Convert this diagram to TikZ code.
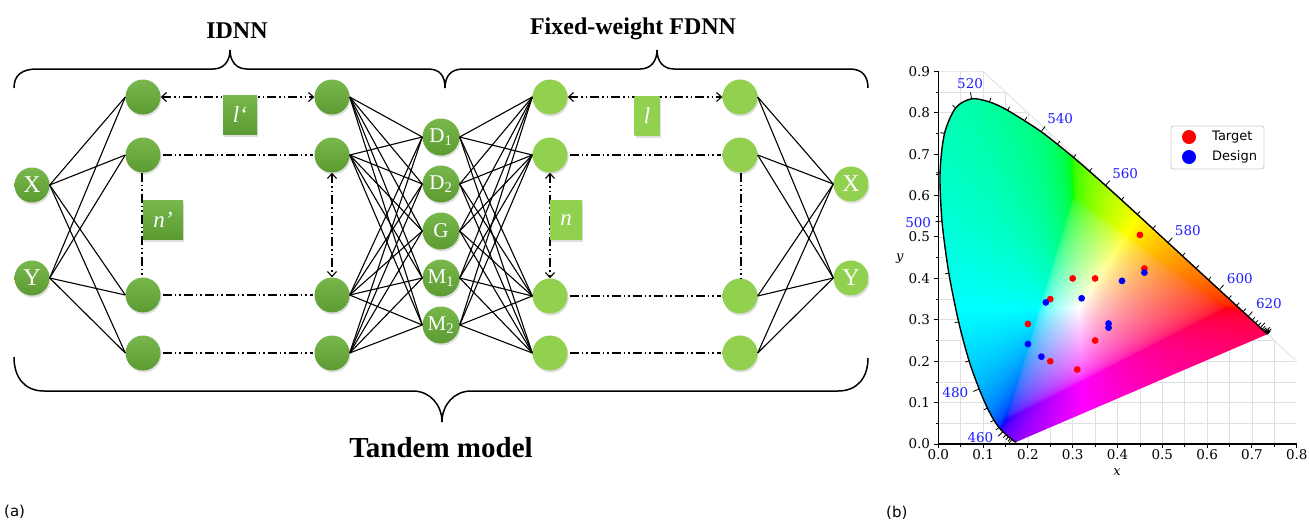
\documentclass[tikz,border=0pt]{standalone}
\usepackage{fontspec}
\setmainfont{Liberation Serif}
\newfontfamily\dvserif{DejaVu Serif}
\newfontfamily\dvsans{DejaVu Sans}
\usetikzlibrary{arrows.meta,shadows,calc}

\definecolor{gA}{HTML}{78B74C}
\definecolor{gB}{HTML}{5B9B31}
\definecolor{gL}{HTML}{92D050}
\definecolor{wlblue}{RGB}{30,30,255}
\definecolor{gridc}{HTML}{E0E0E0}

\pgfdeclarefunctionalshading{cie}{\pgfpointorigin}{\pgfpoint{358.4pt}{372.6pt}}{}{
412.45 div exch 446.33 div exch 2 copy add 1 exch sub
2 index 3.2406 mul 2 index -1.5372 mul add 1 index -0.4986 mul add
3 index -0.9689 mul 3 index 1.8758 mul add 2 index 0.0415 mul add
4 index 0.0557 mul 4 index -0.2040 mul add 3 index 1.0570 mul add
6 3 roll pop pop pop
3 copy 2 copy gt {exch} if pop 2 copy gt {exch} if pop
dup 0 gt {pop 0} if neg
dup 5 1 roll add 3 1 roll 3 index add 3 1 roll 3 index add
3 1 roll 4 -1 roll pop
dup 0 lt {pop 0} if 3 1 roll
dup 0 lt {pop 0} if 3 1 roll
dup 0 lt {pop 0} if 3 1 roll
3 copy 2 copy lt {exch} if pop 2 copy lt {exch} if pop
dup 0.000001 lt {pop 0.000001} if
1 exch div
dup 5 1 roll mul 3 1 roll 3 index mul 3 1 roll 3 index mul
3 1 roll 4 -1 roll pop
0.4545 exp 3 1 roll 0.4545 exp 3 1 roll 0.4545 exp 3 1 roll
}

\tikzset{
  dnode/.style={circle, minimum size=35pt, inner sep=0pt, top color=gA, bottom color=gB,
    text=white, font=\fontsize{24}{24}\selectfont,
    drop shadow={shadow xshift=1pt, shadow yshift=-2pt, opacity=0.25}},
  lnode/.style={dnode, top color=gL, bottom color=gL},
  mnode/.style={dnode, minimum size=37pt, font=\fontsize{21}{21}\selectfont},
  dbox/.style={rectangle, inner sep=0pt, minimum height=39pt, top color=gA, bottom color=gB,
    text=white, font=\fontsize{23}{23}\selectfont\itshape,
    drop shadow={shadow xshift=1pt, shadow yshift=-2pt, opacity=0.25}},
  lbox/.style={dbox, top color=gL, bottom color=gL},
  conn/.style={line width=1.1pt, black},
  ddline/.style={line width=1.1pt, dash pattern=on 9pt off 3pt on 1.5pt off 3pt on 1.5pt off 3pt},
  darr/.style={ddline, {Straight Barb[length=5pt,width=9pt]}-{Straight Barb[length=5pt,width=9pt]}},
  bracepath/.style={line width=1.5pt},
  title/.style={font=\fontsize{24}{24}\selectfont\bfseries, anchor=base},
  gridln/.style={gridc, line width=0.8pt},
  wtick/.style={line width=0.8pt, black},
  wl/.style={text=wlblue, font=\dvserif\fontsize{13.5}{13.5}\selectfont, inner sep=0pt},
  axl/.style={font=\dvserif\fontsize{13.5}{13.5}\selectfont, inner sep=0pt},
  panel/.style={font=\dvsans\fontsize{15}{15}\selectfont, inner sep=0pt},
  leg/.style={font=\dvsans\fontsize{13}{13}\selectfont, inner sep=0pt, anchor=west},
}

\begin{document}
\begin{tikzpicture}[x=1pt,y=-1pt]
\fill[white] (0,0) rectangle (1309,523);
\useasboundingbox (0,0) rectangle (1309,523);

% ---------- titles and braces ----------
\node[title] (tidnn) at (237,38) {IDNN};
\node[title] (tfdnn) at (633,34) {Fixed-weight FDNN};
\node[title, font=\fontsize{29}{29}\selectfont\bfseries] (ttandem) at (441,457) {Tandem model};

\draw[bracepath] (14,88) .. controls (14,75) and (22,69) .. (37,69) -- (213,69)
  .. controls (224,69) and (230,61) .. (230,50) .. controls (230,61) and (236,69) .. (247,69)
  -- (428,69) .. controls (440,69) and (445,76) .. (445,88);
\draw[bracepath] (445,88) .. controls (445,76) and (451,69) .. (463,69) -- (640,69)
  .. controls (651,69) and (657,61) .. (657,50) .. controls (657,61) and (663,69) .. (674,69)
  -- (850,69) .. controls (862,69) and (868,76) .. (868,88);
\draw[bracepath] (14,357) .. controls (14,378) and (25,391) .. (44,391) -- (413,391)
  .. controls (430,391) and (442,405) .. (442,422) .. controls (442,405) and (454,391) .. (471,391)
  -- (838,391) .. controls (857,391) and (868,378) .. (868,358);

% ---------- nodes ----------
\node[dnode] (X) at (32,185) {X};
\node[dnode] (Y) at (32,278) {Y};
\node[dnode] (a1) at (143,97) {};
\node[dnode] (a2) at (143,155) {};
\node[dnode] (a3) at (143,295) {};
\node[dnode] (a4) at (143,353) {};
\node[dnode] (b1) at (332,97) {};
\node[dnode] (b2) at (332,155) {};
\node[dnode] (b3) at (332,295) {};
\node[dnode] (b4) at (332,353) {};
\node[mnode] (m1) at (441,137) {D\textsubscript{1}};
\node[mnode] (m2) at (441,184) {D\textsubscript{2}};
\node[mnode] (m3) at (441,231) {G};
\node[mnode] (m4) at (441,278) {M\textsubscript{1}};
\node[mnode] (m5) at (441,325) {M\textsubscript{2}};
\node[lnode] (c1) at (550,97) {};
\node[lnode] (c2) at (550,155) {};
\node[lnode] (c3) at (550,296) {};
\node[lnode] (c4) at (550,353) {};
\node[lnode] (e1) at (740,97) {};
\node[lnode] (e2) at (740,155) {};
\node[lnode] (e3) at (740,296) {};
\node[lnode] (e4) at (740,353) {};
\node[lnode] (Xo) at (851,184) {X};
\node[lnode] (Yo) at (851,278) {Y};

% ---------- connections ----------
\foreach \s in {X,Y} \foreach \t in {a1,a2,a3,a4} \draw[conn] (\s.east) -- (\t.west);
\foreach \s in {b1,b2,b3,b4} \foreach \t in {m1,m2,m3,m4,m5} \draw[conn] (\s.east) -- (\t.west);
\foreach \s in {m1,m2,m3,m4,m5} \foreach \t in {c1,c2,c3,c4} \draw[conn] (\s.east) -- (\t.west);
\foreach \s in {e1,e2,e3,e4} \foreach \t in {Xo,Yo} \draw[conn] (\s.east) -- (\t.west);

% ---------- dash-dot lines ----------
\draw[darr] (a1.east) -- (b1.west);
\draw[darr] (c1.east) -- (e1.west);
\foreach \p/\q in {a2/b2,a3/b3,a4/b4,c2/e2,c3/e3,c4/e4}
  \draw[ddline, shorten <=2pt, shorten >=1pt] (\p.east) -- (\q.west);
\draw[ddline] ([xshift=-1pt]a2.south) -- ([xshift=-1pt]a3.north);
\draw[darr] (b2.south) -- (b3.north);
\draw[darr] (c2.south) -- (c3.north);
\draw[ddline] ([xshift=1pt]e2.south) -- ([xshift=1pt]e3.north);

% ---------- boxes ----------
\node[dbox, minimum width=34pt] (lp) at (240,115) {l‘};
\node[dbox, minimum width=40pt] (np) at (163,220) {n’};
\node[lbox, minimum width=25pt] (lb) at (647,116) {l};
\node[lbox, minimum width=32pt] (nb) at (566,220) {n};

% ---------- panel labels ----------
\node[panel, anchor=west] (pa) at (4,512) {(a)};
\node[panel, anchor=west] (pb) at (886,513) {(b)};

% ---------- chromaticity chart ----------
\begin{scope}[shift={(938.3pt,-444pt)}, x=448pt, y=414pt]
  \begin{scope}
    \clip (0,0) -- (0.8,0) -- (0.8,0.2) -- (0.1,0.9) -- (0,0.9) -- cycle;
    \foreach \i in {1,...,16} \draw[gridln] (\i*0.05,0) -- (\i*0.05,0.9);
    \foreach \i in {1,...,18} \draw[gridln] (0,\i*0.05) -- (0.8,\i*0.05);
  \end{scope}
  \draw[gridln] (0.1,0.9) -- (0.8,0.2);
  \begin{scope}
    \clip plot[smooth] coordinates {(0.1741,0.0050) (0.1714,0.0051) (0.1689,0.0069) (0.1644,0.0109)
      (0.1566,0.0177) (0.1440,0.0297) (0.1355,0.0399) (0.1241,0.0578) (0.1096,0.0868) (0.0913,0.1327)
      (0.0687,0.2007) (0.0454,0.2950) (0.0235,0.4127) (0.0082,0.5384) (0.0039,0.6548) (0.0139,0.7502)
      (0.0389,0.8120) (0.0743,0.8338) (0.1142,0.8262) (0.1547,0.8059) (0.2296,0.7543) (0.3016,0.6923)
      (0.3731,0.6245) (0.4441,0.5547) (0.5125,0.4866) (0.5752,0.4242) (0.6270,0.3725) (0.6658,0.3340)
      (0.6915,0.3083) (0.7079,0.2920) (0.7190,0.2809) (0.7300,0.2700) (0.7347,0.2653)} -- cycle;
    \node[inner sep=0pt, outer sep=0pt, anchor=south west] (shade) at (0,0) {\pgfuseshading{cie}};
  \end{scope}
  \draw[line width=1.4pt, line join=round] plot[smooth] coordinates {(0.1741,0.0050) (0.1714,0.0051) (0.1689,0.0069) (0.1644,0.0109)
      (0.1566,0.0177) (0.1440,0.0297) (0.1355,0.0399) (0.1241,0.0578) (0.1096,0.0868) (0.0913,0.1327)
      (0.0687,0.2007) (0.0454,0.2950) (0.0235,0.4127) (0.0082,0.5384) (0.0039,0.6548) (0.0139,0.7502)
      (0.0389,0.8120) (0.0743,0.8338) (0.1142,0.8262) (0.1547,0.8059) (0.2296,0.7543) (0.3016,0.6923)
      (0.3731,0.6245) (0.4441,0.5547) (0.5125,0.4866) (0.5752,0.4242) (0.6270,0.3725) (0.6658,0.3340)
      (0.6915,0.3083) (0.7079,0.2920) (0.7190,0.2809) (0.7300,0.2700) (0.7347,0.2653)};
  % wavelength coordinates
  \foreach \l/\xx/\yy in {380/0.1741/0.0050,385/0.1740/0.0050,390/0.1738/0.0049,395/0.1736/0.0049,
    400/0.1733/0.0048,405/0.1730/0.0048,410/0.1726/0.0048,415/0.1721/0.0048,420/0.1714/0.0051,
    425/0.1703/0.0058,430/0.1689/0.0069,435/0.1669/0.0086,440/0.1644/0.0109,445/0.1611/0.0138,
    450/0.1566/0.0177,455/0.1510/0.0227,460/0.1440/0.0297,465/0.1355/0.0399,470/0.1241/0.0578,
    475/0.1096/0.0868,480/0.0913/0.1327,485/0.0687/0.2007,490/0.0454/0.2950,495/0.0235/0.4127,
    500/0.0082/0.5384,505/0.0039/0.6548,510/0.0139/0.7502,515/0.0389/0.8120,520/0.0743/0.8338,
    525/0.1142/0.8262,530/0.1547/0.8059,535/0.1929/0.7816,540/0.2296/0.7543,545/0.2658/0.7243,
    550/0.3016/0.6923,555/0.3373/0.6589,560/0.3731/0.6245,565/0.4087/0.5896,570/0.4441/0.5547,
    575/0.4788/0.5202,580/0.5125/0.4866,585/0.5448/0.4544,590/0.5752/0.4242,595/0.6029/0.3965,
    600/0.6270/0.3725,605/0.6482/0.3514,610/0.6658/0.3340,615/0.6801/0.3197,620/0.6915/0.3083,
    625/0.7006/0.2993,630/0.7079/0.2920,635/0.7140/0.2859,640/0.7190/0.2809,645/0.7230/0.2770,
    650/0.7260/0.2740,655/0.7283/0.2717,660/0.7300/0.2700,665/0.7311/0.2689,670/0.7320/0.2680,
    675/0.7327/0.2673,680/0.7334/0.2666,685/0.7340/0.2660,690/0.7344/0.2656,695/0.7346/0.2654,
    700/0.7347/0.2653}
    \coordinate (w\l) at (\xx,\yy);
  \foreach \l in {440,445,...,695} {
    \pgfmathtruncatemacro\lprev{\l-5}
    \pgfmathtruncatemacro\lnext{\l+5}
    \pgfmathtruncatemacro\lmaj{mod(\l,20)==0 ? 1 : 0}
    \ifnum\lmaj=1 \def\tlen{6.5pt}\else\def\tlen{4pt}\fi
    \draw[wtick] let \p1=(w\lprev), \p2=(w\lnext), \n1={atan2(\y2-\y1,\x2-\x1)+90} in
      (w\l) -- ++(\n1:\tlen);
  }
  \node[wl] (l460) at (0.094,0.0145) {460};
  \node[wl] (l480) at (0.038,0.124) {480};
  \node[wl] (l500) at (-0.045,0.536) {500};
  \node[wl] (l520) at (0.071,0.870) {520};
  \node[wl] (l540) at (0.272,0.785) {540};
  \node[wl] (l560) at (0.417,0.652) {560};
  \node[wl] (l580) at (0.557,0.515) {580};
  \node[wl] (l600) at (0.673,0.399) {600};
  \node[wl] (l620) at (0.738,0.338) {620};
  % axes
  \draw[line width=1.4pt] (0,0.9) -- (0,0) -- (0.8,0);
  \foreach \i in {0,...,8} {
    \draw[line width=1pt] (\i*0.1,0) -- ++(0,-4pt);
    \node[axl] at (\i*0.1,-0.0266) {0.\i};
  }
  \foreach \i in {0,...,7} \draw[line width=0.8pt] (\i*0.1+0.05,0) -- ++(0,-2.5pt);
  \foreach \i in {0,...,9} {
    \draw[line width=1pt] (0,\i*0.1) -- ++(-4pt,0);
    \node[axl, anchor=east] at (-0.018,\i*0.1) {0.\i};
  }
  \foreach \i in {0,...,8} \draw[line width=0.8pt] (0,\i*0.1+0.05) -- ++(-2.5pt,0);
  \node[axl, font=\dvserif\itshape\fontsize{13}{13}\selectfont] (xlab) at (0.399,-0.0676) {x};
  \node[axl, font=\dvserif\itshape\fontsize{13}{13}\selectfont] (ylab) at (-0.0857,0.449) {y};
  % data
  \foreach \px/\py in {0.45/0.505,0.46/0.424,0.30/0.40,0.35/0.40,0.25/0.35,0.20/0.29,0.35/0.25,0.25/0.20,0.31/0.18}
    \fill[red] (\px,\py) circle[radius=3.4pt];
  \foreach \px/\py in {0.46/0.414,0.41/0.394,0.24/0.342,0.32/0.352,0.38/0.291,0.38/0.281,0.20/0.2415,0.23/0.211}
    \fill[blue] (\px,\py) circle[radius=3.4pt];
\end{scope}

% legend
\draw[gray!40, fill=white, rounded corners=2.5pt, line width=0.8pt] (1171,126) rectangle (1264,169);
\fill[red] (1189,137) circle[radius=7pt];
\fill[blue] (1189,157) circle[radius=7pt];
\node[leg] (lgt) at (1212,137) {Target};
\node[leg] (lgd) at (1212,157) {Design};
\end{tikzpicture}
\end{document}
